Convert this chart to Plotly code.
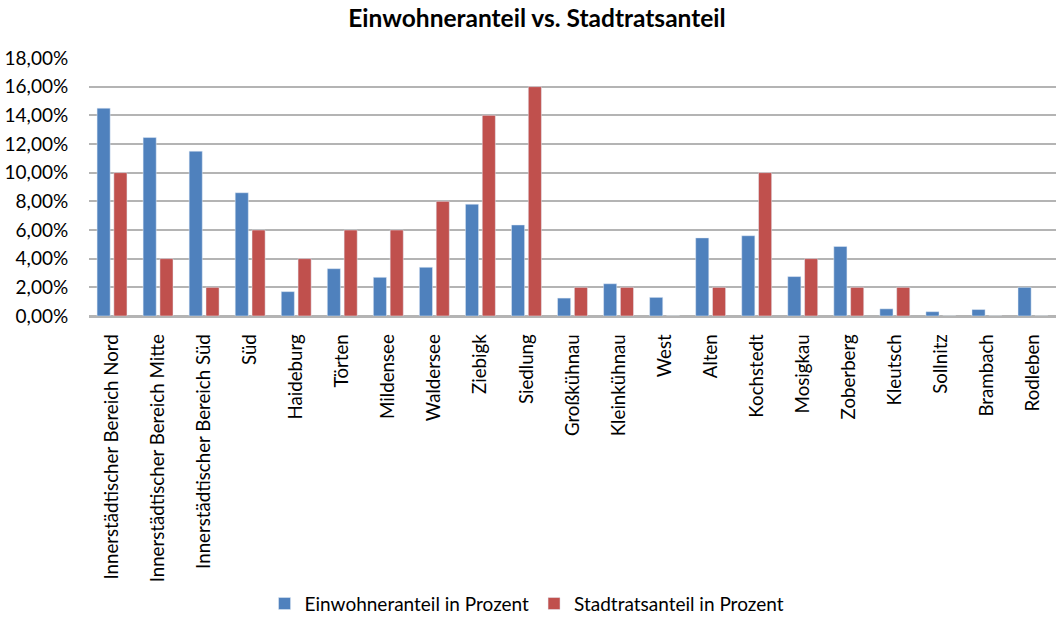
import plotly.graph_objects as go

categories = ["Innerstädtischer Bereich Nord", "Innerstädtischer Bereich Mitte",
              "Innerstädtischer Bereich Süd", "Süd", "Haideburg", "Törten", "Mildensee",
              "Waldersee", "Ziebigk", "Siedlung", "Großkühnau", "Kleinkühnau", "West",
              "Alten", "Kochstedt", "Mosigkau", "Zoberberg", "Kleutsch", "Sollnitz",
              "Brambach", "Rodleben"]
einwohner = [14.5, 12.45, 11.5, 8.6, 1.7, 3.3, 2.7, 3.4, 7.8, 6.35, 1.25, 2.25, 1.3,
             5.45, 5.6, 2.75, 4.85, 0.5, 0.3, 0.45, 2.0]
stadtrat = [10, 4, 2, 6, 4, 6, 6, 8, 14, 16, 2, 2, 0, 2, 10, 4, 2, 2, 0, 0, 0]

font = "Lato, Open Sans, sans-serif"

fig = go.Figure()
fig.add_trace(go.Bar(x=categories, y=[v / 100 for v in einwohner],
                     name="Einwohneranteil in Prozent", marker_color="#4F81BD"))
fig.add_trace(go.Bar(x=categories, y=[v / 100 for v in stadtrat],
                     name="Stadtratsanteil in Prozent", marker_color="#C0504D"))

fig.update_layout(
    width=1056, height=623,
    margin=dict(l=89, r=0, t=58, b=305),
    paper_bgcolor="white", plot_bgcolor="white",
    separators=",.",
    font=dict(family=font, size=19, color="#000000"),
    title=dict(text="<b>Einwohneranteil vs. Stadtratsanteil</b>", x=0.5085, xanchor="center",
               y=0.971, yanchor="middle", font=dict(size=24.5, family=font)),
    barmode="group", bargap=0.27, bargroupgap=0.22,
    legend=dict(orientation="h", x=0.453, xanchor="center", y=-1.115, yanchor="middle",
                font=dict(size=19), itemwidth=30, traceorder="normal"),
    showlegend=True,
)
fig.update_yaxes(range=[0, 0.18], dtick=0.02, tickformat=".2%", showgrid=True,
                 gridcolor="#B4B4B4", gridwidth=1.5, zeroline=True, zerolinecolor="#B4B4B4",
                 zerolinewidth=1.5, ticks="outside", ticklen=16, tickcolor="white",
                 tickfont=dict(size=19))
fig.update_xaxes(tickangle=-90, showline=True, linecolor="#B4B4B4", linewidth=1.5,
                 ticks="outside", ticklen=9, tickcolor="white", tickfont=dict(size=18.7))

fig.write_html("out.html", config={"displayModeBar": False},
               post_script="document.body.style.margin='0';")
